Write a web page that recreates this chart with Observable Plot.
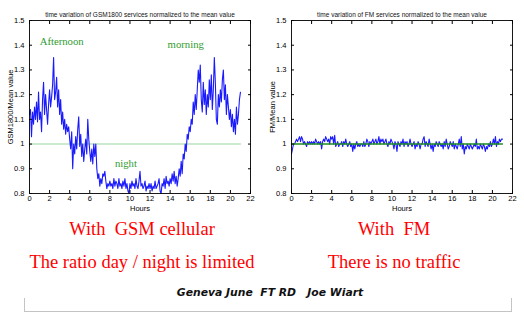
<!DOCTYPE html>
<html>
<head>
<meta charset="utf-8">
<script src="https://cdn.jsdelivr.net/npm/d3@7"></script>
<script src="https://cdn.jsdelivr.net/npm/@observablehq/plot@0.6"></script>
<style>
  html, body { margin: 0; padding: 0; background: #fff; }
  #page { position: relative; width: 524px; height: 328px; overflow: hidden; background: #fff; }
  .plot { position: absolute; top: 0; }
  .cap { position: absolute; text-align: center; color: #ff0000; font-family: "Liberation Serif", "Times New Roman", serif; font-size: 18.5px; line-height: 18.5px; white-space: pre; }
  #credit { position: absolute; left: 0; width: 540px; top: 288px; text-align: center; font-family: "DejaVu Sans", Verdana, sans-serif; font-weight: bold; font-style: italic; font-size: 10.8px; line-height: 10.8px; white-space: pre; color: #111; }
  #box { position: absolute; left: 24px; top: 298px; width: 486px; height: 13px; border: 1.5px solid #c4c4c4; border-top: none; }
</style>
</head>
<body>
<div id="page"></div>
<script>
// ---- data (hours sampled every 0.1 h, from 0 to 21 h) ----
const gsmValues = [
  1.12,1.14,1.03,1.13,1.08,1.15,1.10,1.17,1.09,1.21,
  1.10,1.13,1.05,1.18,1.25,1.12,1.20,1.14,1.08,1.16,
  1.22,1.15,1.19,1.24,1.35,1.18,1.21,1.27,1.15,1.22,
  1.12,1.18,1.08,1.13,1.06,1.10,1.04,1.08,1.05,1.07,
  1.02,0.98,1.05,0.90,1.00,0.96,1.03,0.98,1.06,1.11,
  0.99,1.04,0.95,1.00,0.93,0.98,1.02,0.96,1.10,1.02,
  0.97,0.93,0.98,0.92,1.00,0.95,1.00,0.90,0.86,0.88,
  0.83,0.86,0.84,0.88,0.87,0.89,0.85,0.82,0.84,0.83,
  0.85,0.83,0.84,0.82,0.86,0.83,0.85,0.84,0.82,0.86,
  0.83,0.84,0.82,0.85,0.83,0.86,0.82,0.84,0.81,0.80,
  0.84,0.82,0.85,0.83,0.84,0.82,0.86,0.83,0.82,0.85,
  0.89,0.83,0.84,0.82,0.83,0.85,0.81,0.83,0.82,0.84,
  0.82,0.84,0.81,0.83,0.82,0.85,0.82,0.83,0.84,0.86,
  0.81,0.80,0.84,0.83,0.86,0.82,0.87,0.84,0.85,0.83,
  0.86,0.84,0.88,0.85,0.89,0.84,0.87,0.83,0.86,0.90,
  0.87,0.93,0.88,0.96,0.94,1.00,0.97,1.04,1.02,1.07,
  1.05,1.10,1.08,1.17,1.12,1.20,1.14,1.22,1.30,1.25,
  1.32,1.18,1.13,1.25,1.16,1.22,1.12,1.20,1.15,1.26,
  1.18,1.28,1.14,1.22,1.35,1.25,1.10,1.08,1.20,1.15,
  1.22,1.17,1.26,1.30,1.18,1.24,1.12,1.20,1.15,1.10,
  1.14,1.07,1.12,1.05,1.10,1.04,1.15,1.08,1.12,1.18,
  1.21
];
const fmValues = [
  0.96,0.98,1.00,1.00,1.01,1.02,1.01,1.02,1.03,1.01,
  1.03,1.02,1.00,1.01,1.00,0.99,1.01,1.00,1.01,1.00,
  1.01,1.00,1.01,1.00,1.02,1.01,1.00,1.01,1.00,1.01,
  0.98,1.01,1.02,1.01,1.03,1.02,1.01,1.02,1.00,1.03,
  1.02,1.03,1.00,1.035,0.99,1.00,1.01,0.99,1.00,1.00,
  1.01,0.99,1.01,1.00,1.02,1.00,0.99,1.00,1.01,0.99,
  1.00,0.97,1.00,0.98,1.00,1.01,0.99,1.00,0.99,1.00,
  1.00,0.99,1.01,0.99,1.00,1.02,1.01,0.99,1.01,1.00,
  1.01,1.02,1.00,1.01,1.02,1.00,1.01,1.03,1.00,1.02,
  1.01,1.02,1.00,1.01,1.02,1.00,0.99,1.01,1.00,1.02,
  1.01,1.00,0.98,1.01,1.00,0.97,1.01,1.00,0.99,1.01,
  1.00,1.02,0.99,1.01,1.00,1.01,0.99,1.00,1.02,1.00,
  0.99,1.00,1.01,0.98,1.00,0.99,1.01,1.00,0.98,1.00,
  1.00,1.02,1.03,0.99,1.01,1.00,0.99,1.02,1.00,0.98,
  1.00,0.97,1.00,0.99,1.01,1.00,0.99,1.01,1.00,0.99,
  1.00,0.98,1.01,0.99,1.02,1.00,0.98,0.99,1.01,1.00,
  0.99,1.01,0.98,1.00,0.99,0.98,1.00,1.02,0.99,1.03,
  0.98,1.00,0.96,0.99,0.98,1.00,0.99,0.98,1.00,0.99,
  0.98,0.99,1.00,0.99,1.02,0.98,0.99,0.98,1.00,0.99,
  0.98,1.00,0.99,0.97,0.99,0.98,1.00,0.99,1.01,0.99,
  1.00,1.02,1.00,1.03,0.99,1.01,1.00,1.02,1.01,1.02,
  1.02
];
const hourStep = 0.1;
const xTicks = [0,2,4,6,8,10,12,14,16,18,20,22];
const yTicks = [0.8,0.9,1,1.1,1.2,1.3,1.4,1.5];
const gsmNotes = [
  {t: "Afternoon", h: 3.2, v: 1.416},
  {t: "morning", h: 15.55, v: 1.401},
  {t: "night", h: 9.6, v: 0.92}
];
const titles = [
  "time variation of GSM1800 services normalized to the mean value",
  "time variation of FM services normalized to the mean value"
];
const yLabels = ["GSM1800/Mean value", "FM/Mean value"];
const xLabel = "Hours";
const captions = [
  ["With  GSM cellular", "The ratio day / night is limited"],
  ["With  FM", "There is no traffic"]
];
const credit = "Geneva June  FT RD   Joe Wiart";

const gsm = gsmValues.map((v, i) => ({h: +(i * hourStep).toFixed(1), v}));
const fm = fmValues.map((v, i) => ({h: +(i * hourStep).toFixed(1), v}));
const fmt = d3.format("~g");

function panel(data, title, ylabel, isGsm) {
  const marks = [];
  if (isGsm) {
    marks.push(Plot.lineY(data, {x: "h", y: () => 1, stroke: "#bfe3bf", strokeWidth: 1.6}));
    marks.push(Plot.lineY(data, {x: "h", y: "v", stroke: "#1a1aff", strokeWidth: 1.1}));
    marks.push(Plot.text(gsmNotes, {x: "h", y: "v", text: "t", fill: "#2f9b2f", fontFamily: "Liberation Serif, Times New Roman, serif", fontSize: 10.7}));
  } else {
    marks.push(Plot.lineY(data, {x: "h", y: "v", stroke: "#1a1aff", strokeWidth: 1.1}));
    marks.push(Plot.lineY(data, {x: "h", y: () => 1, stroke: "#1f8f1f", strokeWidth: 1.4}));
  }
  marks.push(
    Plot.frame({stroke: "#000", strokeWidth: 0.9}),
    Plot.axisX(xTicks, {anchor: "bottom", tickSize: -3, tickPadding: 5, tickFormat: fmt, label: xLabel, labelAnchor: "center", labelArrow: "none", labelOffset: 17, fontSize: 7.5}),
    Plot.axisX(xTicks, {anchor: "top", tickSize: -3, tickFormat: () => "", label: null}),
    Plot.axisY(yTicks, {anchor: "left", tickSize: -3, tickPadding: 8, tickFormat: fmt, label: ylabel, labelAnchor: "center", labelArrow: "none", labelOffset: 22, fontSize: 7.5}),
    Plot.axisY(yTicks, {anchor: "right", tickSize: -3, tickFormat: () => "", label: null}),
    Plot.text([title], {frameAnchor: "top", dy: -8, fontSize: 6.5, fill: "#111"})
  );
  return Plot.plot({
    width: 262, height: 215,
    marginLeft: 29, marginRight: 12, marginTop: 20, marginBottom: 22,
    x: {domain: [0, 22]},
    y: {domain: [0.8, 1.5]},
    style: {fontFamily: "Liberation Sans, Arial, sans-serif", fontSize: "7.5px", background: "transparent", color: "#000", overflow: "visible"},
    marks
  });
}

const page = document.getElementById("page");
const p1 = panel(gsm, titles[0], yLabels[0], true);
p1.classList.add("plot"); p1.style.left = "0px";
const p2 = panel(fm, titles[1], yLabels[1], false);
p2.classList.add("plot"); p2.style.left = "262px";
page.appendChild(p1);
page.appendChild(p2);

const capPos = [{left: 0, width: 284}, {left: 264, width: 260}];
captions.forEach((lines, k) => {
  lines.forEach((txt, j) => {
    const d = document.createElement("div");
    d.className = "cap";
    d.textContent = txt;
    d.style.left = capPos[k].left + "px";
    d.style.width = capPos[k].width + "px";
    d.style.top = (j === 0 ? 220 : 252.5) + "px";
    page.appendChild(d);
  });
});
const box = document.createElement("div");
box.id = "box";
page.appendChild(box);
const c = document.createElement("div");
c.id = "credit";
c.textContent = credit;
page.appendChild(c);
</script>
</body>
</html>
